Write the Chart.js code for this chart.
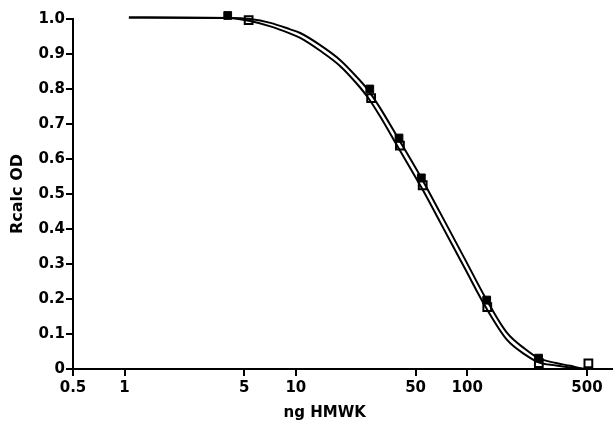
<!DOCTYPE html>
<html>
<head>
<meta charset="utf-8">
<script src="https://cdn.jsdelivr.net/npm/chart.js@4"></script>
<style>
  html, body { margin: 0; padding: 0; background: #fff; }
  #wrap { width: 613px; height: 421px; }
</style>
</head>
<body>
<div id="wrap"><canvas id="myChart"></canvas></div>
<script>
const curve_x = [1.06, 4.1, 5.4, 7.1, 9.2, 10.6, 13.8, 18.1, 22.7, 26.4, 31, 38.8, 54, 69.6, 97, 130, 171, 218, 261, 330, 400, 450, 525];
// upper curve (filled squares)
const curve_filled = [1.004, 1.003, 1.0, 0.989, 0.971, 0.96, 0.926, 0.883, 0.834, 0.797, 0.746, 0.666, 0.546, 0.446, 0.314, 0.197, 0.103, 0.057, 0.031, 0.017, 0.009, 0.003, 0];
// lower curve (open squares)
const curve_open = [1.004, 1.003, 0.994, 0.979, 0.959, 0.946, 0.910, 0.866, 0.815, 0.775, 0.722, 0.640, 0.519, 0.419, 0.287, 0.172, 0.083, 0.041, 0.019, 0.010, 0.004, 0.001, 0];

// measured points
const filled_x = [4.0, 27, 40, 54, 130, 261];
const filled_y = [1.01, 0.80, 0.66, 0.546, 0.197, 0.031];
const open_x = [5.3, 27.5, 40.5, 55, 131, 262, 510];
const open_y = [0.997, 0.774, 0.638, 0.525, 0.177, 0.017, 0.016];

const x_ticks = [0.5, 1, 5, 10, 50, 100, 500];

const toXY = (xs, ys) => xs.map((x, i) => ({ x: x, y: ys[i] }));

const tickFont = { family: 'DejaVu Sans', weight: 'bold', size: 15 };

let config = {
    type: 'scatter',
    data: {
        datasets: [{
            type: 'line',
            data: toXY(curve_x, curve_filled),
            borderColor: '#000',
            borderWidth: 2,
            pointRadius: 0,
            cubicInterpolationMode: 'monotone',
            fill: false
        }, {
            type: 'line',
            data: toXY(curve_x, curve_open),
            borderColor: '#000',
            borderWidth: 2,
            pointRadius: 0,
            cubicInterpolationMode: 'monotone',
            fill: false
        }, {
            data: toXY(filled_x, filled_y),
            pointStyle: 'rect',
            pointRadius: 5.5,
            backgroundColor: '#000',
            borderColor: '#000',
            borderWidth: 1
        }, {
            data: toXY(open_x, open_y),
            pointStyle: 'rect',
            pointRadius: 5.5,
            backgroundColor: '#fff',
            borderColor: '#000',
            borderWidth: 2
        }]
    },
    options: {
        responsive: true,
        maintainAspectRatio: false,
        animation: false,
        clip: false,
        layout: { autoPadding: false, padding: { top: 19, right: 0, left: 0, bottom: 0 } },
        plugins: {
            legend: { display: false },
            tooltip: { enabled: false }
        },
        scales: {
            x: {
                type: 'logarithmic',
                min: 0.5,
                max: 710,
                afterBuildTicks: (scale) => {
                    scale.ticks = x_ticks.map(v => ({ value: v }));
                },
                afterFit: (scale) => { scale.height = 52; },
                ticks: {
                    color: '#000',
                    font: tickFont,
                    padding: 3,
                    maxRotation: 0,
                    autoSkip: false,
                    callback: (v) => String(v)
                },
                grid: { drawOnChartArea: false, drawTicks: true, tickLength: 7, color: '#000', lineWidth: 2 },
                border: { display: true, color: '#000', width: 2 },
                title: {
                    display: true,
                    // trailing spaces pull the label left of the plot centre, as in the original
                    text: 'ng HMWK       ',
                    color: '#000',
                    font: { family: 'DejaVu Sans', weight: 'bold', size: 15, lineHeight: 1 },
                    padding: { top: 0, bottom: 0 }
                }
            },
            y: {
                min: 0,
                max: 1,
                afterFit: (scale) => { scale.width = 73; },
                ticks: {
                    stepSize: 0.1,
                    color: '#000',
                    font: tickFont,
                    padding: 1,
                    callback: (v) => v === 0 ? '0' : v.toFixed(1)
                },
                grid: { drawOnChartArea: false, drawTicks: true, tickLength: 7, color: '#000', lineWidth: 2 },
                border: { display: true, color: '#000', width: 2 },
                title: {
                    display: true,
                    text: 'Rcalc OD',
                    color: '#000',
                    font: { family: 'DejaVu Sans', weight: 'bold', size: 16 },
                    padding: { top: 8, bottom: 0 }
                }
            }
        }
    }
};

window.onload = () => {
    new Chart(document.getElementById('myChart'), config);
};
</script>
</body>
</html>
